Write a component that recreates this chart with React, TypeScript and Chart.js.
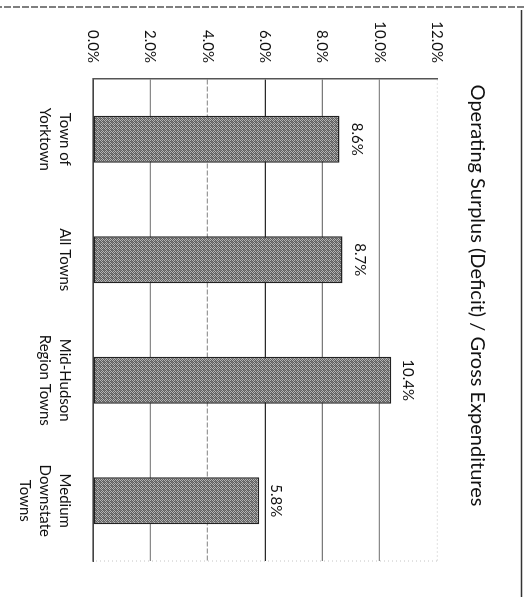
import React, { useEffect, useRef } from "react";
import { Chart, registerables } from "chart.js";

Chart.register(...registerables);

const categories: string[][] = [
  ["Town of", "Yorktown"],
  ["All Towns"],
  ["Mid-Hudson", "Region Towns"],
  ["Medium", "Downstate", "Towns"],
];
const values: number[] = [8.6, 8.7, 10.4, 5.8];
const titleText = "Operating Surplus (Deficit) / Gross Expenditures";
const axisMin = 0;
const axisMax = 12;
const axisStep = 2;
const gridColors = ["#444444", "#8a8a8a", "#9a9a9a", "#2a2a2a", "#7a7a7a", "#8a8a8a", "#cfcfcf"];

const W = 597;
const H = 524;
const FONT = "Lato, 'Open Sans', sans-serif";
const TEXT = "#111111";

function makePattern(): CanvasPattern | string {
  const pc = document.createElement("canvas");
  pc.width = 4;
  pc.height = 4;
  const g = pc.getContext("2d");
  if (!g) return "#8f8f8f";
  g.fillStyle = "#b4b4b4";
  g.fillRect(0, 0, 4, 4);
  g.fillStyle = "#5e5e5e";
  const dots = [[0, 0], [2, 0], [1, 1], [3, 1], [0, 2], [2, 2], [1, 3], [3, 3]];
  dots.forEach(([x, y]) => g.fillRect(x, y, 1, 1));
  g.fillStyle = "#7a7a7a";
  g.fillRect(1, 0, 1, 1);
  g.fillRect(2, 3, 1, 1);
  const p = g.createPattern(pc, "repeat");
  return p || "#8f8f8f";
}

const framePlugin = {
  id: "frame",
  afterDraw(chart: any) {
    const { ctx, chartArea } = chart;
    ctx.save();
    ctx.strokeStyle = "#c4c4c4";
    ctx.lineWidth = 1;
    ctx.setLineDash([1, 3]);
    ctx.beginPath();
    ctx.moveTo(chartArea.right, chartArea.top);
    ctx.lineTo(chartArea.right, chartArea.bottom);
    ctx.stroke();
    ctx.strokeStyle = "#555";
    ctx.lineWidth = 1.5;
    ctx.setLineDash([7, 2]);
    ctx.beginPath();
    ctx.moveTo(7, 0);
    ctx.lineTo(7, chart.height);
    ctx.stroke();
    ctx.strokeStyle = "#333";
    ctx.setLineDash([]);
    ctx.beginPath();
    ctx.moveTo(10, 2.5);
    ctx.lineTo(chart.width, 2.5);
    ctx.stroke();
    ctx.restore();
  },
};

const labelPlugin = {
  id: "barLabels",
  afterDatasetsDraw(chart: any) {
    const { ctx } = chart;
    const meta = chart.getDatasetMeta(0);
    ctx.save();
    ctx.fillStyle = TEXT;
    ctx.font = `15px ${FONT}`;
    ctx.textAlign = "center";
    ctx.textBaseline = "middle";
    meta.data.forEach((bar: any, i: number) => {
      ctx.fillText(values[i].toFixed(1) + "%", bar.x, bar.y - 17);
    });
    ctx.restore();
  },
};

export default function App() {
  const ref = useRef<HTMLCanvasElement | null>(null);

  useEffect(() => {
    if (!ref.current) return;
    const chart = new Chart(ref.current, {
      type: "bar",
      data: {
        labels: categories,
        datasets: [
          {
            data: values,
            backgroundColor: makePattern() as any,
            borderColor: "#222222",
            borderWidth: 1.5,
            borderSkipped: false,
            categoryPercentage: 1,
            barPercentage: 0.39,
          },
        ],
      },
      options: {
        responsive: false,
        animation: false,
        devicePixelRatio: 1,
        layout: { padding: { left: 0, right: 6, top: 0, bottom: 0 } },
        plugins: {
          legend: { display: false },
          tooltip: { enabled: false },
          title: {
            display: true,
            text: titleText,
            color: TEXT,
            font: { family: FONT, size: 20, weight: "normal" as any, lineHeight: 1.2 },
            padding: { top: 35, bottom: 28 },
          },
        },
        scales: {
          x: {
            grid: { display: false, drawTicks: false },
            border: { display: true, color: "#444", width: 1.5 },
            ticks: {
              color: TEXT,
              padding: 18,
              maxRotation: 0,
              autoSkip: false,
              font: { family: FONT, size: 15, lineHeight: 1.33 },
            },
            afterFit: (scale: any) => {
              scale.height = 93;
            },
          },
          y: {
            min: axisMin,
            max: axisMax,
            ticks: {
              stepSize: axisStep,
              color: TEXT,
              padding: 16,
              font: { family: FONT, size: 15 },
              callback: (v: any) => Number(v).toFixed(1) + "%",
            },
            grid: {
              drawTicks: false,
              lineWidth: 1.2,
              color: (c: any) => gridColors[c.index] ?? "#888",
            },
            border: {
              display: true,
              color: "#555",
              width: 1.5,
              dash: (c: any) => (c.index === 2 ? [5, 2] : c.index === 6 ? [1, 3] : []),
            },
            afterFit: (scale: any) => {
              scale.width = 79;
            },
          },
          spacer: {
            type: "linear",
            position: "right",
            display: true,
            min: axisMin,
            max: axisMax,
            grid: { display: false, drawTicks: false },
            border: { display: false },
            ticks: { display: false },
            afterFit: (scale: any) => {
              scale.width = 30;
            },
          },
        },
      },
      plugins: [framePlugin, labelPlugin],
    });
    return () => chart.destroy();
  }, []);

  return (
    <div
      style={{
        position: "absolute",
        left: 0,
        top: 0,
        width: W,
        height: H,
        background: "#fff",
        transformOrigin: "0 0",
        transform: `translate(${H}px, 0) rotate(90deg)`,
      }}
    >
      <canvas ref={ref} width={W} height={H} style={{ display: "block", width: W, height: H }} />
    </div>
  );
}
